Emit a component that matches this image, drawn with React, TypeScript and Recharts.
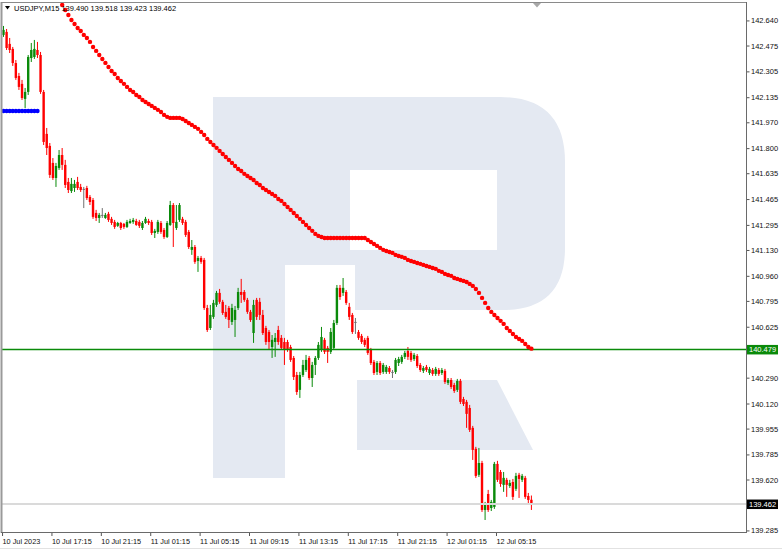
import React from "react";
import { ComposedChart, Bar, Line, XAxis, YAxis, ReferenceLine } from "recharts";

const FONT = "'Liberation Sans', Arial, sans-serif";
const BULL = "#0a8a0a";
const BEAR = "#ff0000";
const DOJI = "#707070";
const SAR_RED = "#ff0000";
const SAR_BLUE = "#0000ff";

const SYMBOL = "USDJPY,M15";
const LAST_BAR = [139.49, 139.518, 139.423, 139.462]; // O H L C of the last bar

// M15 bars, 10 Jul 13:15 -> 12 Jul 08:00
const OPEN = [
  142.548, 142.568, 142.489, 142.456, 142.363, 142.278, 142.226, 142.127, 142.173, 142.396,
  142.403, 142.449, 142.416, 142.173, 141.897, 141.818, 141.706, 141.607, 141.673, 141.758,
  141.693, 141.581, 141.521, 141.541, 141.581, 141.548, 141.535, 141.541, 141.482, 141.462,
  141.377, 141.344, 141.364, 141.344, 141.371, 141.338, 141.318, 141.292, 141.311, 141.305,
  141.285, 141.311, 141.318, 141.324, 141.318, 141.278, 141.311, 141.324, 141.318, 141.245,
  141.252, 141.311, 141.265, 141.219, 141.298, 141.429, 141.278, 141.331, 141.338, 141.318,
  141.252, 141.134, 141.153, 141.061, 141.081, 141.068, 140.752, 140.620, 140.693, 140.772,
  140.851, 140.792, 140.726, 140.752, 140.660, 140.673, 140.752, 140.857, 140.857, 140.805,
  140.726, 140.587, 140.805, 140.792, 140.706, 140.620, 140.594, 140.495, 140.528, 140.607,
  140.555, 140.528, 140.528, 140.495, 140.423, 140.311, 140.213, 140.311, 140.344, 140.423,
  140.291, 140.377, 140.423, 140.476, 140.542, 140.489, 140.463, 140.489, 140.653, 140.884,
  140.851, 140.857, 140.759, 140.706, 140.660, 140.594, 140.568, 140.542, 140.555, 140.476,
  140.397, 140.331, 140.390, 140.331, 140.331, 140.357, 140.331, 140.331, 140.390, 140.397,
  140.430, 140.469, 140.456, 140.416, 140.436, 140.377, 140.338, 140.364, 140.324, 140.344,
  140.318, 140.344, 140.324, 140.338, 140.259, 140.278, 140.245, 140.213, 140.272, 140.153,
  140.134, 140.094, 139.963, 139.825, 139.654, 139.732, 139.423, 139.528, 139.436, 139.443,
  139.726, 139.673, 139.588, 139.621, 139.581, 139.607, 139.562, 139.654, 139.621, 139.634,
  139.515, 139.49,
];
const HIGH = [
  142.607, 142.587, 142.528, 142.469, 142.383, 142.298, 142.252, 142.199, 142.416, 142.495,
  142.515, 142.502, 142.436, 142.186, 141.936, 141.837, 141.738, 141.706, 141.791, 141.804,
  141.726, 141.607, 141.607, 141.594, 141.614, 141.568, 141.548, 141.555, 141.495, 141.475,
  141.397, 141.377, 141.409, 141.377, 141.384, 141.351, 141.331, 141.318, 141.318, 141.311,
  141.331, 141.338, 141.344, 141.338, 141.331, 141.324, 141.351, 141.338, 141.331, 141.272,
  141.331, 141.324, 141.278, 141.324, 141.456, 141.442, 141.429, 141.442, 141.351, 141.331,
  141.265, 141.199, 141.166, 141.094, 141.094, 141.081, 140.772, 140.772, 140.805, 140.864,
  140.877, 140.805, 140.772, 140.765, 140.779, 140.765, 140.884, 140.943, 140.870, 140.818,
  140.739, 140.805, 140.818, 140.818, 140.739, 140.634, 140.607, 140.574, 140.587, 140.634,
  140.574, 140.555, 140.542, 140.509, 140.436, 140.331, 140.331, 140.410, 140.443, 140.436,
  140.397, 140.436, 140.528, 140.627, 140.555, 140.502, 140.620, 140.673, 140.903, 140.903,
  140.949, 140.870, 140.785, 140.719, 140.686, 140.607, 140.581, 140.555, 140.568, 140.489,
  140.410, 140.403, 140.403, 140.390, 140.377, 140.370, 140.344, 140.423, 140.430, 140.443,
  140.469, 140.495, 140.469, 140.456, 140.449, 140.390, 140.370, 140.377, 140.364, 140.357,
  140.364, 140.357, 140.357, 140.351, 140.291, 140.291, 140.259, 140.285, 140.285, 140.167,
  140.147, 140.114, 139.976, 139.838, 139.831, 139.746, 139.476, 139.555, 139.489, 139.739,
  139.746, 139.686, 139.673, 139.634, 139.621, 139.627, 139.667, 139.667, 139.660, 139.647,
  139.535, 139.518,
];
const LOW = [
  142.535, 142.449, 142.429, 142.344, 142.252, 142.186, 142.12, 142.067, 142.153, 142.37,
  142.39, 142.396, 142.16, 141.824, 141.758, 141.607, 141.594, 141.548, 141.66, 141.66,
  141.541, 141.508, 141.508, 141.515, 141.528, 141.515, 141.409, 141.462, 141.429, 141.338,
  141.324, 141.311, 141.344, 141.338, 141.318, 141.298, 141.272, 141.285, 141.265, 141.272,
  141.278, 141.305, 141.305, 141.292, 141.278, 141.265, 141.305, 141.298, 141.232, 141.212,
  141.239, 141.239, 141.206, 141.212, 141.292, 141.153, 141.265, 141.318, 141.298, 141.219,
  141.14, 141.101, 141.042, 140.989, 141.042, 140.739, 140.594, 140.607, 140.68, 140.759,
  140.779, 140.706, 140.68, 140.62, 140.64, 140.561, 140.739, 140.785, 140.792, 140.713,
  140.66, 140.522, 140.673, 140.673, 140.574, 140.509, 140.476, 140.423, 140.43, 140.509,
  140.476, 140.377, 140.463, 140.397, 140.278, 140.18, 140.16, 140.298, 140.331, 140.278,
  140.232, 140.311, 140.41, 140.463, 140.449, 140.39, 140.449, 140.476, 140.64, 140.805,
  140.831, 140.772, 140.673, 140.581, 140.581, 140.542, 140.515, 140.495, 140.443, 140.377,
  140.311, 140.311, 140.311, 140.318, 140.318, 140.318, 140.291, 140.318, 140.37, 140.384,
  140.416, 140.41, 140.397, 140.403, 140.357, 140.331, 140.324, 140.331, 140.311, 140.305,
  140.305, 140.305, 140.311, 140.252, 140.245, 140.219, 140.193, 140.199, 140.12, 140.107,
  139.963, 139.936, 139.752, 139.634, 139.64, 139.41, 139.357, 139.41, 139.416, 139.43,
  139.607, 139.575, 139.542, 139.509, 139.568, 139.489, 139.548, 139.502, 139.607, 139.496,
  139.456, 139.423,
];
const CLOSE = [
  142.581, 142.462, 142.449, 142.363, 142.265, 142.206, 142.133, 142.173, 142.403, 142.449,
  142.456, 142.416, 142.173, 141.844, 141.804, 141.627, 141.607, 141.686, 141.758, 141.693,
  141.561, 141.528, 141.568, 141.568, 141.541, 141.528, 141.535, 141.475, 141.449, 141.351,
  141.344, 141.364, 141.364, 141.364, 141.331, 141.311, 141.285, 141.311, 141.278, 141.285,
  141.318, 141.324, 141.331, 141.298, 141.292, 141.311, 141.338, 141.311, 141.245, 141.259,
  141.318, 141.252, 141.219, 141.311, 141.429, 141.311, 141.318, 141.429, 141.311, 141.232,
  141.153, 141.153, 141.055, 141.081, 141.055, 140.752, 140.607, 140.706, 140.785, 140.851,
  140.792, 140.719, 140.693, 140.673, 140.752, 140.739, 140.857, 140.838, 140.805, 140.726,
  140.673, 140.772, 140.693, 140.706, 140.587, 140.528, 140.528, 140.542, 140.555, 140.528,
  140.489, 140.476, 140.476, 140.41, 140.298, 140.199, 140.311, 140.377, 140.41, 140.291,
  140.377, 140.423, 140.509, 140.561, 140.463, 140.463, 140.594, 140.653, 140.884, 140.824,
  140.884, 140.785, 140.693, 140.594, 140.66, 140.555, 140.528, 140.509, 140.456, 140.39,
  140.324, 140.39, 140.324, 140.377, 140.364, 140.331, 140.331, 140.41, 140.416, 140.43,
  140.456, 140.43, 140.41, 140.443, 140.37, 140.344, 140.357, 140.344, 140.351, 140.318,
  140.351, 140.318, 140.344, 140.265, 140.278, 140.232, 140.206, 140.272, 140.134, 140.12,
  140.055, 139.95, 139.818, 139.647, 139.732, 139.423, 139.456, 139.423, 139.476, 139.726,
  139.621, 139.594, 139.634, 139.588, 139.601, 139.509, 139.647, 139.627, 139.647, 139.509,
  139.489, 139.462,
];

// Parabolic SAR: blue below price at the start, red above price afterwards
const SAR_UP = [142.048, 142.048, 142.048, 142.048, 142.048, 142.048, 142.048, 142.048, 142.048, 142.048, 142.048, 142.048];
const SAR_DOWN_FROM = 19;
const SAR_DOWN = [
  142.745, 142.712, 142.679, 142.646, 142.62, 142.594, 142.574, 142.548, 142.528, 142.502,
  142.469, 142.443, 142.416, 142.39, 142.364, 142.337, 142.311, 142.291, 142.265, 142.245,
  142.226, 142.206, 142.186, 142.173, 142.153, 142.14, 142.12, 142.107, 142.094, 142.081,
  142.068, 142.055, 142.041, 142.022, 142.009, 142.002, 142.002, 142.002, 142.002, 141.995,
  141.982, 141.969, 141.956, 141.943, 141.93, 141.91, 141.89, 141.864, 141.844, 141.824,
  141.805, 141.785, 141.765, 141.745, 141.726, 141.706, 141.686, 141.666, 141.653, 141.634,
  141.62, 141.607, 141.594, 141.574, 141.561, 141.541, 141.528, 141.515, 141.502, 141.489,
  141.469, 141.456, 141.436, 141.416, 141.397, 141.377, 141.357, 141.338, 141.318, 141.298,
  141.278, 141.259, 141.239, 141.226, 141.219, 141.212, 141.212, 141.212, 141.212, 141.212,
  141.212, 141.212, 141.212, 141.212, 141.212, 141.212, 141.212, 141.212, 141.212, 141.199,
  141.186, 141.173, 141.16, 141.147, 141.134, 141.127, 141.12, 141.114, 141.101, 141.094,
  141.088, 141.081, 141.068, 141.061, 141.055, 141.048, 141.042, 141.035, 141.028, 141.022,
  141.015, 141.009, 140.996, 140.989, 140.976, 140.969, 140.963, 140.949, 140.943, 140.936,
  140.93, 140.923, 140.91, 140.897, 140.877, 140.851, 140.818, 140.785, 140.752, 140.726,
  140.706, 140.686, 140.667, 140.647, 140.62, 140.601, 140.581, 140.561, 140.548, 140.535,
  140.515, 140.495, 140.484,
];

const TIME_TICKS = [0, 16, 32, 48, 64, 80, 96, 112, 128, 144, 160];
const TIME_LABELS = [
  "10 Jul 2023", "10 Jul 17:15", "10 Jul 21:15", "11 Jul 01:15", "11 Jul 05:15", "11 Jul 09:15",
  "11 Jul 13:15", "11 Jul 17:15", "11 Jul 21:15", "12 Jul 01:15", "12 Jul 05:15",
];
const PRICE_TICKS = [
  142.64, 142.475, 142.305, 142.135, 141.97, 141.8, 141.635, 141.465, 141.295, 141.13,
  140.96, 140.795, 140.625, 140.29, 140.12, 139.955, 139.785, 139.62, 139.285,
];
const LEVEL = 140.479;
const BID = LAST_BAR[3];

const SLOTS = 241; // bar slots incl. the empty chart shift on the right

const rows = Array.from({ length: SLOTS }, (_, i) => {
  if (i >= OPEN.length) return { i };
  const s = i - SAR_DOWN_FROM;
  return {
    i,
    range: [LOW[i], HIGH[i]],
    o: OPEN[i], h: HIGH[i], l: LOW[i], c: CLOSE[i],
    up: i < SAR_UP.length ? SAR_UP[i] : null,
    sar: s >= 0 && s < SAR_DOWN.length ? SAR_DOWN[s] : null,
  };
});

const Candle = (props: any) => {
  const { x, y, width, height, payload } = props;
  if (!payload || payload.o == null) return <g />;
  const { o, h, l, c } = payload;
  const top = Math.min(y, y + height);
  const span = Math.abs(height);
  const k = h > l ? span / (h - l) : 0;
  const py = (v: number) => top + (h - v) * k;
  const color = c > o ? BULL : c < o ? BEAR : DOJI;
  const cx = x + width / 2;
  const bTop = py(Math.max(o, c));
  const bH = Math.max(1, Math.abs(py(o) - py(c)));
  return (
    <g>
      <line x1={cx} x2={cx} y1={top} y2={top + span} stroke={color} strokeWidth={1} />
      <rect x={cx - 1.2} y={bTop} width={2.4} height={bH} fill={color} />
    </g>
  );
};

const dotOf = (fill: string) => (p: any) => {
  const key = `d${p.index}`;
  if (p.value == null || p.cy == null || Number.isNaN(p.cy)) return <g key={key} />;
  return <circle key={key} cx={p.cx} cy={p.cy} r={2.2} fill={fill} />;
};

const TimeTick = (props: any) => {
  const { x, y, payload } = props;
  const label = TIME_LABELS[TIME_TICKS.indexOf(payload.value)];
  const tx = x - 1;
  return (
    <g>
      <line x1={tx} x2={tx} y1={y} y2={y + 4} stroke="#555" />
      <text x={tx} y={y + 9.5} fontSize={7.3} fontFamily={FONT} fill="#111" dominantBaseline="central">
        {label}
      </text>
    </g>
  );
};

const PriceTick = (props: any) => {
  const { x, y, payload } = props;
  return (
    <g>
      <line x1={x + 1} x2={x + 3.5} y1={y} y2={y} stroke="#555" />
      <text x={x + 5} y={y} fontSize={7.5} fontFamily={FONT} fill="#111" dominantBaseline="central">
        {Number(payload.value).toFixed(3)}
      </text>
    </g>
  );
};

const priceBox = (value: number, fill: string) => (props: any) => {
  const vb = props.viewBox || {};
  const x0 = (vb.x ?? 2) + (vb.width ?? 744) + 1;
  const yc = vb.y ?? 0;
  return (
    <g>
      <rect x={x0} y={yc - 4.5} width={31} height={9.5} fill={fill} />
      <text x={x0 + 2} y={yc + 0.3} fontSize={7.5} fontFamily={FONT} fill="#fff" dominantBaseline="central">
        {value.toFixed(3)}
      </text>
    </g>
  );
};

export default function App() {
  const header = `${SYMBOL} ${LAST_BAR.map((v) => v.toFixed(3)).join(" ")}`;
  return (
    <div style={{ position: "absolute", left: 0, top: 0, width: 782, height: 550, background: "#fff" }}>
      {/* watermark logo */}
      <svg width={782} height={550} style={{ position: "absolute", left: 0, top: 0 }}>
        <path
          fillRule="evenodd"
          fill="#e4e9f2"
          d="M213,97 H500 Q565,97 565,162 V248 Q565,310 503,310 H355 V265 H285 V478 H213 Z M350,170 H497 V250 H350 Z"
        />
        <path fill="#e4e9f2" d="M357,380 H497 L533,450 H357 Z" />
      </svg>
      <div style={{ position: "absolute", left: 0, top: 0 }}>
        <ComposedChart width={782} height={550} data={rows} margin={{ top: 3, right: 0, bottom: 0, left: 2 }} barCategoryGap={0}>
          <XAxis
            dataKey="i"
            type="category"
            ticks={TIME_TICKS}
            interval={0}
            height={18}
            tickSize={0}
            tickMargin={0}
            tickLine={false}
            axisLine={false}
            tick={<TimeTick />}
          />
          <YAxis
            orientation="right"
            width={36}
            domain={[139.278, 142.758]}
            allowDataOverflow
            ticks={PRICE_TICKS}
            interval={0}
            tickSize={0}
            tickMargin={0}
            tickLine={false}
            axisLine={false}
            tick={<PriceTick />}
          />
          <ReferenceLine y={BID} stroke="#dadada" strokeWidth={2} label={priceBox(BID, "#000")} />
          <Bar dataKey="range" shape={Candle} barSize={3} isAnimationActive={false} />
          <Line dataKey="up" stroke="none" dot={dotOf(SAR_BLUE)} activeDot={false} isAnimationActive={false} />
          <Line dataKey="sar" stroke="none" dot={dotOf(SAR_RED)} activeDot={false} isAnimationActive={false} />
          <ReferenceLine y={LEVEL} stroke="#0a8a0a" strokeWidth={1.5} label={priceBox(LEVEL, "#0a8a0a")} />
        </ComposedChart>
      </div>
      {/* terminal frame and header */}
      <svg width={782} height={550} style={{ position: "absolute", left: 0, top: 0, pointerEvents: "none" }}>
        <line x1={1.5} x2={1.5} y1={2} y2={533} stroke="#9a9a9a" strokeWidth={2} />
        <line x1={1} x2={746.5} y1={2.5} y2={2.5} stroke="#8a8a8a" strokeWidth={1} />
        <line x1={746.5} x2={746.5} y1={2} y2={533} stroke="#6a6a6a" strokeWidth={1} />
        <line x1={1} x2={747} y1={532.5} y2={532.5} stroke="#6a6a6a" strokeWidth={1} />
        <line x1={0} x2={782} y1={548.5} y2={548.5} stroke="#e2e2e2" strokeWidth={1} />
        <path d="M533,3 L541,3 L537,7.5 Z" fill="#a8a8a8" />
        <path d="M5,6 L10,6 L7.5,9.5 Z" fill="#000" />
        <text x={14} y={8} fontSize={7.5} fontFamily={FONT} fill="#000" dominantBaseline="central">
          {header}
        </text>
      </svg>
    </div>
  );
}
